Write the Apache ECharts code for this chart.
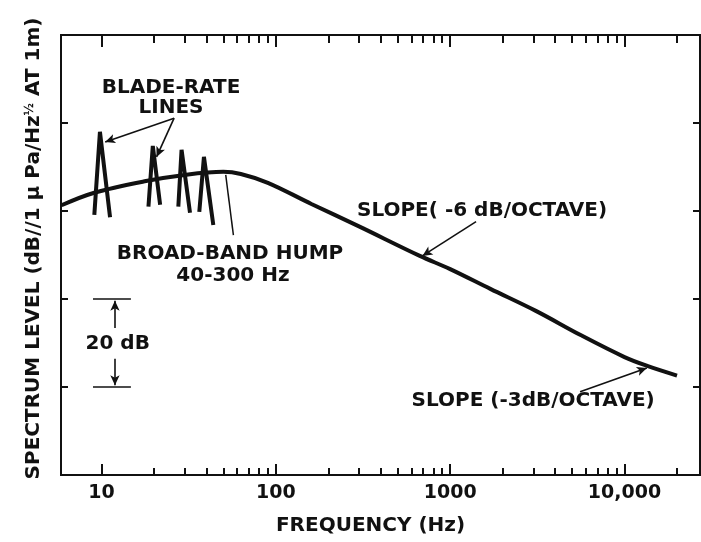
<!DOCTYPE html>
<html>
<head>
<meta charset="utf-8">
<script src="https://cdn.jsdelivr.net/npm/echarts@6/dist/echarts.min.js"></script>
<style>
  html, body { margin: 0; background: #fff; }
  #chart { width: 701px; height: 542px; }
</style>
</head>
<body>
<div id="chart"></div>
<script>
// broad-band spectrum (Hz, dB)
const freq = [5.9, 9, 18, 30, 50, 63, 90, 160, 300, 670, 1000, 1700, 3100, 5600, 10000, 13500, 20000];
const level = [61.3, 64.1, 66.8, 68.2, 68.9, 68.4, 66.4, 61.6, 56.5, 49.8, 46.8, 42.3, 37.3, 31.8, 26.8, 24.8, 22.6];

// blade-rate lines: [foot, peak, foot]
const bladeLine1 = [[9.1, 59.1], [9.8, 78.0], [11.2, 58.6]];
const bladeLine2 = [[18.6, 61.0], [19.7, 74.8], [21.7, 61.4]];
const bladeLine3 = [[27.6, 61.0], [28.8, 73.9], [32.2, 59.6]];
const bladeLine4 = [[36.4, 59.8], [38.7, 72.3], [43.8, 56.8]];
const humpPointer = [[51.6, 68.2], [57.1, 54.5]];

// annotation arrows [from, to]
const arrows = [
  [[26.1, 81.1], [10.5, 75.7]],
  [[26.1, 81.1], [20.7, 72.3]],
  [[1408, 57.6], [693, 49.8]],
  [[5560, 18.9], [13430, 24.3]],
  [[11.95, 33.4], [11.95, 39.6]],
  [[11.95, 26.4], [11.95, 20.4]]
];
const bracketBars = [[[8.94, 40], [14.75, 40]], [[8.94, 20], [14.75, 20]]];

// annotation texts
const noteText = ['BLADE-RATE', 'LINES', 'BROAD-BAND HUMP', '40-300 Hz', 'SLOPE( -6 dB/OCTAVE)', 'SLOPE (-3dB/OCTAVE)', '20 dB'];
const noteAt = [[25.05, 88.0], [25.05, 83.4], [54.6, 50.2], [56.8, 45.3], [1524, 60.0], [2992, 16.8], [12.4, 29.8]];

// axes
const majorTicks = [10, 100, 1000, 10000];
const majorLabels = ['10', '100', '1000', '10,000'];
const minorTicks = [20, 30, 40, 50, 60, 70, 80, 90, 200, 300, 400, 500, 600, 700, 800, 900,
  2000, 3000, 4000, 5000, 6000, 7000, 8000, 9000, 20000];
const yTicks = [20, 40, 60, 80];

const ink = '#111';
const font = 'DejaVu Sans';

var myChart = echarts.init(document.getElementById('chart'));

const zip = (xs, ys) => xs.map((x, i) => [x, ys[i]]);

const segment = (data, width) => ({
  type: 'line',
  data: data,
  symbol: 'none',
  silent: true,
  lineStyle: { color: ink, width: width },
  z: 3
});

const xBase = (position, ticks, len, showLabel) => ({
  type: 'log',
  logBase: 10,
  min: 5.86,
  max: 27100,
  position: position,
  axisLine: { show: true, lineStyle: { color: ink, width: 2 } },
  axisTick: { show: true, inside: true, length: len, customValues: ticks, lineStyle: { color: ink, width: 2 } },
  axisLabel: showLabel ? {
    show: true,
    customValues: majorTicks,
    margin: 9,
    color: ink,
    fontFamily: font,
    fontWeight: 'bold',
    fontSize: 19,
    formatter: (v) => majorLabels[majorTicks.indexOf(Math.round(v))] || ''
  } : { show: false },
  splitLine: { show: false },
  minorTick: { show: false }
});

const yBase = (position) => ({
  type: 'value',
  min: 0,
  max: 100,
  interval: 20,
  position: position,
  axisLine: { show: true, lineStyle: { color: ink, width: 2 } },
  axisTick: { show: true, inside: true, length: 7, customValues: yTicks, lineStyle: { color: ink, width: 2 } },
  axisLabel: { show: false },
  splitLine: { show: false }
});

const bottomMajor = xBase('bottom', majorTicks, 11, true);
bottomMajor.name = 'FREQUENCY (Hz)';
bottomMajor.nameLocation = 'middle';
bottomMajor.nameGap = 41;
bottomMajor.nameTextStyle = {
  color: ink, fontFamily: font, fontWeight: 'bold', fontSize: 20, padding: [0, 20, 0, 0]
};

const leftAxis = yBase('left');
leftAxis.name = 'SPECTRUM LEVEL (dB//1 \u03bc Pa/Hz{s|\u00bd} AT 1m)';
leftAxis.nameLocation = 'middle';
leftAxis.nameGap = 17;
leftAxis.nameTextStyle = {
  color: ink, fontFamily: font, fontWeight: 'bold', fontSize: 20, padding: [0, 0, 0, 13],
  rich: { s: { fontSize: 12, fontWeight: 'bold', fontFamily: font, color: ink, verticalAlign: 'top' } }
};

const series = [
  {
    type: 'line',
    name: 'spectrum',
    data: zip(freq, level),
    smooth: 0.35,
    symbol: 'none',
    silent: true,
    lineStyle: { color: ink, width: 4 },
    z: 3
  },
  segment(bladeLine1, 4),
  segment(bladeLine2, 4),
  segment(bladeLine3, 4),
  segment(bladeLine4, 4),
  Object.assign(segment(humpPointer, 1.5), {
    markLine: {
      silent: true,
      symbol: ['none', 'arrow'],
      symbolSize: [7, 10],
      label: { show: false },
      lineStyle: { color: ink, width: 1.6, type: 'solid' },
      data: arrows.map(a => [{ coord: a[0] }, { coord: a[1] }])
    }
  }),
  ...bracketBars.map(b => segment(b, 1.5)),
  {
    type: 'scatter',
    silent: true,
    symbolSize: 0,
    itemStyle: { opacity: 1, color: ink },
    data: noteText.map((t, i) => ({ name: t, value: noteAt[i] })),
    label: {
      show: true,
      position: 'inside',
      formatter: '{b}',
      color: ink,
      opacity: 1,
      fontFamily: font,
      fontWeight: 'bold',
      fontSize: 20
    },
    z: 5
  }
];

myChart.setOption({
  animation: false,
  backgroundColor: '#fff',
  grid: { left: 61, right: 1, top: 35, bottom: 67, containLabel: false },
  xAxis: [
    bottomMajor,
    xBase('bottom', minorTicks, 7, false),
    xBase('top', majorTicks, 12, false),
    xBase('top', minorTicks, 8, false)
  ],
  yAxis: [leftAxis, yBase('right')],
  series: series
});
</script>
</body>
</html>
